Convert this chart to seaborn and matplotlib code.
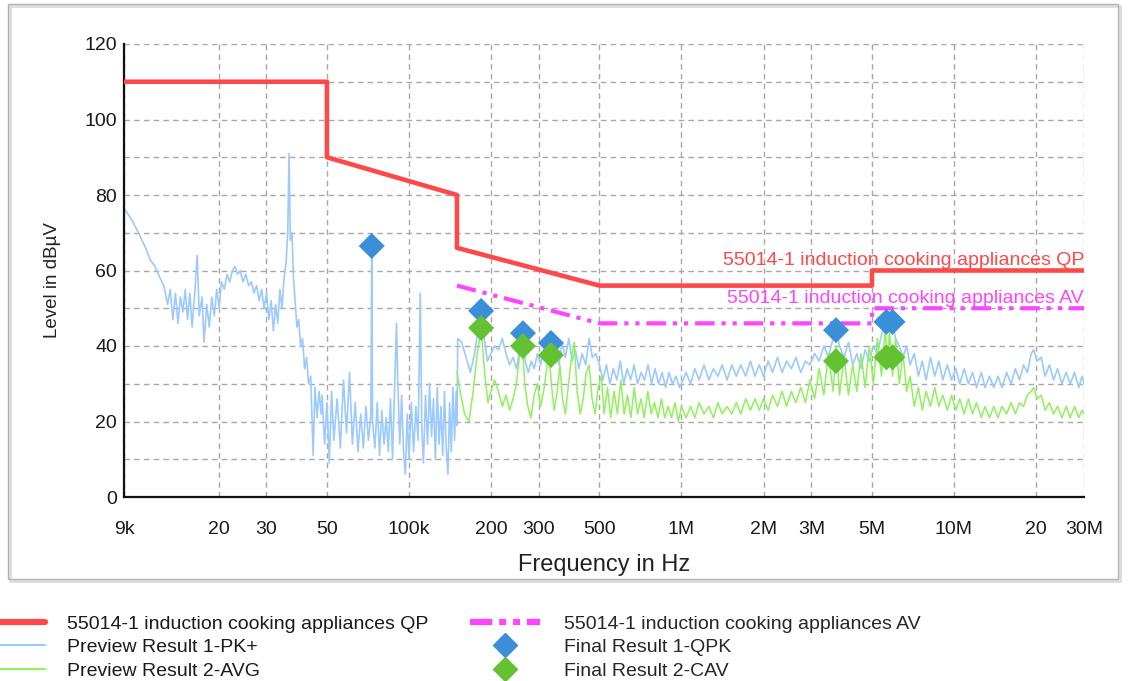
import numpy as np
import pandas as pd
import matplotlib
matplotlib.use("Agg")
import matplotlib.pyplot as plt
import seaborn as sns
from matplotlib.lines import Line2D
from matplotlib.patches import Rectangle
from matplotlib.ticker import FixedLocator, NullLocator, MultipleLocator

# --- limit lines (Hz, dBuV) ---
qp_freq = [9e3, 50e3, 50e3, 150e3, 150e3, 500e3, 5e6, 5e6, 30e6]
qp_level = [110, 110, 90, 80, 66, 56, 56, 60, 60]
av_freq = [150e3, 500e3, 5e6, 5e6, 30e6]
av_level = [56, 46, 46, 50, 50]

# --- Preview Result 1-PK+ (frequency in kHz) ---
pk_freq_khz = [
    9.0, 9.3, 9.6, 10.0, 10.4, 10.8, 11.2, 11.7, 12.2, 12.6,
    13.0, 13.3, 13.6, 13.9, 14.2, 14.5, 14.8, 15.1, 15.4, 15.7,
    16.0, 16.4, 16.7, 17.0, 17.4, 17.7, 18.1, 18.5, 18.9, 19.3,
    19.7, 20.1, 20.5, 21.0, 21.5, 22.0, 22.5, 23.0, 23.5, 24.0,
    24.6, 25.2, 25.8, 26.4, 27.0, 27.6, 28.2, 28.8, 29.4, 30.0,
    30.6, 31.2, 31.8, 32.4, 33.0, 33.6, 34.2, 34.8, 35.4, 35.9,
    36.3, 36.7, 37.2, 37.7, 38.2, 38.8, 39.4, 40.0, 40.7, 41.4,
    42.1, 42.8, 43.6, 44.5, 45.2, 46.0, 46.8, 47.6, 48.0, 49.0,
    50.0, 51.0, 52.0, 53.0, 54.5, 56.0, 57.5, 59.0, 60.5, 62.0,
    63.5, 65.0, 66.5, 68.0, 69.5, 71.0, 72.5, 73.0, 73.5, 75.0,
    76.5, 78.0, 79.5, 81.0, 82.5, 84.0, 85.5, 87.0, 88.5, 90.0,
    91.0, 92.5, 94.0, 95.5, 97.0, 98.5, 100, 102, 104, 106,
    108, 110, 111.5, 113, 115, 117, 119, 121, 123, 125,
    127, 129, 131, 133, 135, 137, 139, 141, 143, 145,
    147, 149, 150, 151, 156, 162, 168, 174, 179, 184,
    189, 194, 200, 206, 213, 220, 227, 234, 241, 248,
    255, 261, 267, 274, 281, 288, 296, 304, 312, 320,
    328, 337, 346, 355, 365, 375, 386, 397, 408, 420,
    432, 445, 458, 471, 485, 500, 515, 530, 546, 562,
    579, 596, 614, 632, 651, 670, 690, 711, 732, 754,
    777, 800, 824, 849, 874, 900, 927, 955, 983, 1000,
    1040, 1080, 1120, 1160, 1210, 1260, 1310, 1360, 1410, 1470,
    1530, 1590, 1650, 1720, 1790, 1860, 1930, 2000, 2080, 2160,
    2250, 2340, 2430, 2530, 2630, 2740, 2850, 2960, 3080, 3200,
    3330, 3460, 3600, 3700, 3800, 3950, 4100, 4250, 4400, 4560,
    4720, 4890, 5060, 5240, 5420, 5600, 5700, 5800, 5950, 6100,
    6300, 6500, 6700, 6900, 7150, 7400, 7650, 7900, 8200, 8500,
    8800, 9100, 9450, 9800, 10150, 10500, 10900, 11300, 11700, 12100,
    12600, 13000, 13500, 14000, 14500, 15000, 15600, 16200, 16800, 17400,
    18000, 18600, 19200, 19600, 20200, 20900, 21600, 22400, 23200, 24000,
    24900, 25800, 26700, 27700, 28700, 29500, 30000,
]
pk_level = [
    76.5, 75, 73.5, 71, 68.5, 66, 63, 61, 58, 56,
    51, 55, 47, 54, 46, 53, 49, 55, 47, 54,
    45, 55, 64, 48, 53, 41, 51, 45, 53, 48,
    55, 50, 57, 55, 59, 57, 60, 61, 59, 60,
    57, 59, 56, 57, 54, 56, 52, 55, 50, 54,
    47, 52, 44, 51, 46, 55, 50, 58, 62, 70,
    91, 68, 70, 58, 52, 45, 47, 40, 42, 34,
    37, 30, 32, 11, 29, 21, 28, 22, 27, 14,
    25, 9, 28, 15, 26, 13, 31, 17, 33, 14,
    25, 12, 22, 13, 24, 15, 22, 66, 20, 13,
    25, 11, 23, 14, 21, 12, 26, 10, 28, 46,
    30, 14, 27, 12, 6, 22, 10, 25, 12, 24,
    15, 54, 18, 9, 27, 14, 30, 16, 26, 10,
    29, 14, 24, 11, 28, 13, 6, 25, 12, 29,
    15, 28, 19, 42, 41, 37, 33, 38, 44, 48.5,
    42, 36, 38, 40, 39, 42, 38, 35, 37, 34,
    39, 43, 36, 33, 36, 34, 38, 35, 39, 40.5,
    38, 36, 39, 35, 41, 37, 42, 36, 39, 34,
    38, 35, 42, 37, 38, 35, 31, 35, 30, 34,
    31, 36, 30, 34, 31, 35, 30, 33, 31, 35,
    30, 34, 30, 33, 29, 33, 30, 32, 29, 30,
    33, 30, 34, 31, 35, 31, 34, 32, 35, 31,
    35, 32, 35, 32, 36, 32, 35, 32, 36, 33,
    37, 33, 36, 34, 37, 33, 36, 35, 38, 36,
    40, 37, 42, 44, 40, 37, 41, 35, 38, 34,
    39, 36, 40, 38, 43, 45, 46, 44, 46, 42,
    40, 37, 40, 35, 38, 32, 36, 31, 37, 32,
    36, 31, 35, 31, 34, 30, 34, 30, 33, 29,
    33, 29, 32, 29, 32, 29, 33, 30, 34, 31,
    35, 33, 38, 39, 36, 37, 32, 35, 31, 34,
    30, 33, 30, 33, 29, 32, 30,
]

# --- Preview Result 2-AVG (frequency in kHz) ---
avg_freq_khz = [
    150, 155, 160, 166, 172, 178, 184, 190, 195, 200,
    206, 213, 220, 227, 234, 241, 248, 255, 260, 266,
    273, 280, 288, 296, 304, 312, 320, 326, 333, 341,
    350, 358, 366, 375, 385, 395, 404, 414, 425, 436,
    447, 458, 470, 482, 495, 508, 520, 535, 550, 566,
    582, 599, 616, 634, 652, 671, 690, 710, 730, 752,
    774, 796, 820, 844, 868, 893, 920, 946, 974, 1000,
    1040, 1080, 1120, 1160, 1210, 1260, 1310, 1360, 1410, 1470,
    1530, 1590, 1650, 1720, 1790, 1860, 1930, 2000, 2080, 2160,
    2250, 2340, 2430, 2530, 2630, 2740, 2850, 2960, 3080, 3200,
    3330, 3460, 3600, 3700, 3800, 3950, 4100, 4250, 4400, 4560,
    4720, 4890, 5060, 5240, 5420, 5600, 5700, 5800, 5950, 6100,
    6300, 6500, 6700, 6900, 7150, 7400, 7650, 7900, 8200, 8500,
    8800, 9100, 9450, 9800, 10150, 10500, 10900, 11300, 11700, 12100,
    12600, 13000, 13500, 14000, 14500, 15000, 15600, 16200, 16800, 17400,
    18000, 18600, 19200, 19600, 20200, 20900, 21600, 22400, 23200, 24000,
    24900, 25800, 26700, 27700, 28700, 29500, 30000,
]
avg_level = [
    33, 27, 22, 20, 28, 38, 44.5, 32, 25, 28,
    31, 28, 24, 27, 23, 26, 30, 38, 42, 30,
    24, 21, 27, 30, 24, 28, 34, 38, 30, 23,
    28, 35, 26, 22, 30, 37, 41, 28, 22, 26,
    33, 35, 26, 22, 29, 32, 22, 29, 21, 28,
    22, 31, 22, 27, 21, 29, 22, 26, 21, 28,
    22, 25, 21, 26, 21, 24, 21, 25, 20, 24,
    21, 24, 21, 25, 22, 24, 21, 25, 22, 24,
    22, 25, 22, 26, 23, 26, 23, 26, 23, 27,
    24, 28, 24, 28, 25, 29, 25, 31, 26, 34,
    27, 38, 28, 40, 27, 37, 27, 35, 28, 38,
    29, 40, 30, 42, 32, 45, 34, 44, 32, 42,
    30, 38, 28, 32, 24, 29, 23, 28, 24, 29,
    24, 27, 23, 27, 23, 26, 22, 26, 22, 25,
    21, 24, 21, 24, 21, 24, 22, 25, 22, 25,
    24, 27, 28, 29, 26, 27, 23, 25, 22, 24,
    21, 24, 21, 24, 21, 23, 22,
]

# --- final measurement points ---
qpk_freq = [73e3, 184e3, 262e3, 332e3, 3.69e6, 5.65e6, 5.95e6]
qpk_level = [66.5, 49.3, 43.4, 40.8, 44.2, 46.4, 46.4]
cav_freq = [184e3, 262e3, 332e3, 3.69e6, 5.65e6, 5.95e6]
cav_level = [44.8, 40.0, 37.6, 36.0, 37.0, 37.0]

x_ticks = [9e3, 20e3, 30e3, 50e3, 100e3, 200e3, 300e3, 500e3,
           1e6, 2e6, 3e6, 5e6, 10e6, 20e6, 30e6]
x_tick_labels = ["9k", "20", "30", "50", "100k", "200", "300", "500",
                 "1M", "2M", "3M", "5M", "10M", "20", "30M"]

QP_COLOR = "#ff4848"
AV_COLOR = "#ff45ff"
PK_COLOR = "#9ccaff"
AVG_COLOR = "#8ff25c"
QPK_COLOR = "#3a8fd8"
CAV_COLOR = "#63c132"


def main():
    sns.set_style("white")
    plt.rcParams["font.family"] = ["Liberation Sans", "DejaVu Sans"]
    plt.rcParams["lines.scale_dashes"] = False

    fig = plt.figure(figsize=(11.3, 6.81), dpi=100)
    ax = fig.add_axes([124 / 1130, 1 - 497 / 681, 960 / 1130, 453 / 681])
    ax.set_xscale("log")

    pk = pd.DataFrame({"freq": np.array(pk_freq_khz) * 1e3, "level": pk_level})
    avg = pd.DataFrame({"freq": np.array(avg_freq_khz) * 1e3, "level": avg_level})

    sns.lineplot(data=pk, x="freq", y="level", ax=ax, color=PK_COLOR,
                 lw=1.2, estimator=None, sort=False, zorder=2)
    sns.lineplot(data=avg, x="freq", y="level", ax=ax, color=AVG_COLOR,
                 lw=1.1, estimator=None, sort=False, zorder=2.1)

    sns.lineplot(x=qp_freq, y=qp_level, ax=ax, color=QP_COLOR, lw=3.3,
                 estimator=None, sort=False, zorder=3)
    sns.lineplot(x=av_freq, y=av_level, ax=ax, color=AV_COLOR, lw=3.0,
                 estimator=None, sort=False, zorder=3)
    ax.lines[-1].set_dashes([14, 5, 3, 5, 3, 5])

    sns.scatterplot(x=qpk_freq, y=qpk_level, ax=ax, marker="D", s=175,
                    color=QPK_COLOR, edgecolor="none", zorder=4)
    sns.scatterplot(x=cav_freq, y=cav_level, ax=ax, marker="D", s=175,
                    color=CAV_COLOR, edgecolor="none", zorder=4.1)

    ax.text(30e6, 60.3, "55014-1 induction cooking appliances QP", color=QP_COLOR,
            ha="right", va="bottom", fontsize=14)
    ax.text(30e6, 50.3, "55014-1 induction cooking appliances AV", color=AV_COLOR,
            ha="right", va="bottom", fontsize=14)

    ax.set_xlim(9e3, 30e6)
    ax.set_ylim(0, 120)
    ax.xaxis.set_major_locator(FixedLocator(x_ticks))
    ax.xaxis.set_minor_locator(NullLocator())
    ax.set_xticklabels(x_tick_labels)
    ax.yaxis.set_major_locator(MultipleLocator(20))
    ax.yaxis.set_minor_locator(MultipleLocator(10))

    ax.grid(True, which="both", color="#a8a8a8", lw=1.0, linestyle=(0, (4, 3)))
    ax.set_axisbelow(True)
    for side in ["top", "right"]:
        ax.spines[side].set_visible(False)
    for side in ["left", "bottom"]:
        ax.spines[side].set_color("#111111")
        ax.spines[side].set_linewidth(1.6)

    ax.tick_params(axis="both", which="both", direction="inout", length=8,
                   width=1.2, color="#111111", labelsize=14, labelcolor="#1a1a1a")
    ax.tick_params(axis="x", pad=13)
    ax.tick_params(axis="y", pad=1)

    ax.set_xlabel("Frequency in Hz", fontsize=17, color="#222222", labelpad=12)
    ax.set_ylabel("Level in dBµV", fontsize=13.5, color="#222222")
    ax.yaxis.set_label_coords(-0.066, 0.479)

    # outer frame
    fig.patches.append(Rectangle((10 / 1130, 1 - 581 / 681), 1110 / 1130, 575 / 681,
                                 transform=fig.transFigure, fill=False,
                                 edgecolor="#dcdcdc", lw=2.0))
    fig.patches.append(Rectangle((8 / 1130, 1 - 579 / 681), 1110 / 1130, 575 / 681,
                                 transform=fig.transFigure, fill=False,
                                 edgecolor="#b4b4b4", lw=1.0))

    # legend, two columns
    left_handles = [
        Line2D([], [], color=QP_COLOR, lw=4.5),
        Line2D([], [], color=PK_COLOR, lw=1.5),
        Line2D([], [], color=AVG_COLOR, lw=1.5),
    ]
    left_labels = ["55014-1 induction cooking appliances QP",
                   "Preview Result 1-PK+", "Preview Result 2-AVG"]
    right_handles = [
        Line2D([], [], color=AV_COLOR, lw=4.5, dashes=[16, 5, 5, 5, 5, 5]),
        Line2D([], [], color=QPK_COLOR, lw=0, marker="D", markersize=12),
        Line2D([], [], color=CAV_COLOR, lw=0, marker="D", markersize=12),
    ]
    right_labels = ["55014-1 induction cooking appliances AV",
                    "Final Result 1-QPK", "Final Result 2-CAV"]

    leg_top = 1 - 615 / 681
    leg1 = fig.legend(left_handles, left_labels, loc="upper left",
                      bbox_to_anchor=(0.0, leg_top), frameon=False,
                      fontsize=14, handlelength=2.3, handletextpad=1.15,
                      labelspacing=0.31, borderpad=0, borderaxespad=0)
    fig.legend(right_handles, right_labels, loc="upper left",
               bbox_to_anchor=(470 / 1130, leg_top), frameon=False,
               fontsize=14, handlelength=3.6, handletextpad=1.25,
               labelspacing=0.31, borderpad=0, borderaxespad=0)
    for t in leg1.get_texts():
        t.set_color("#1a1a1a")

    fig.savefig("out.png", dpi=100)


if __name__ == "__main__":
    main()
